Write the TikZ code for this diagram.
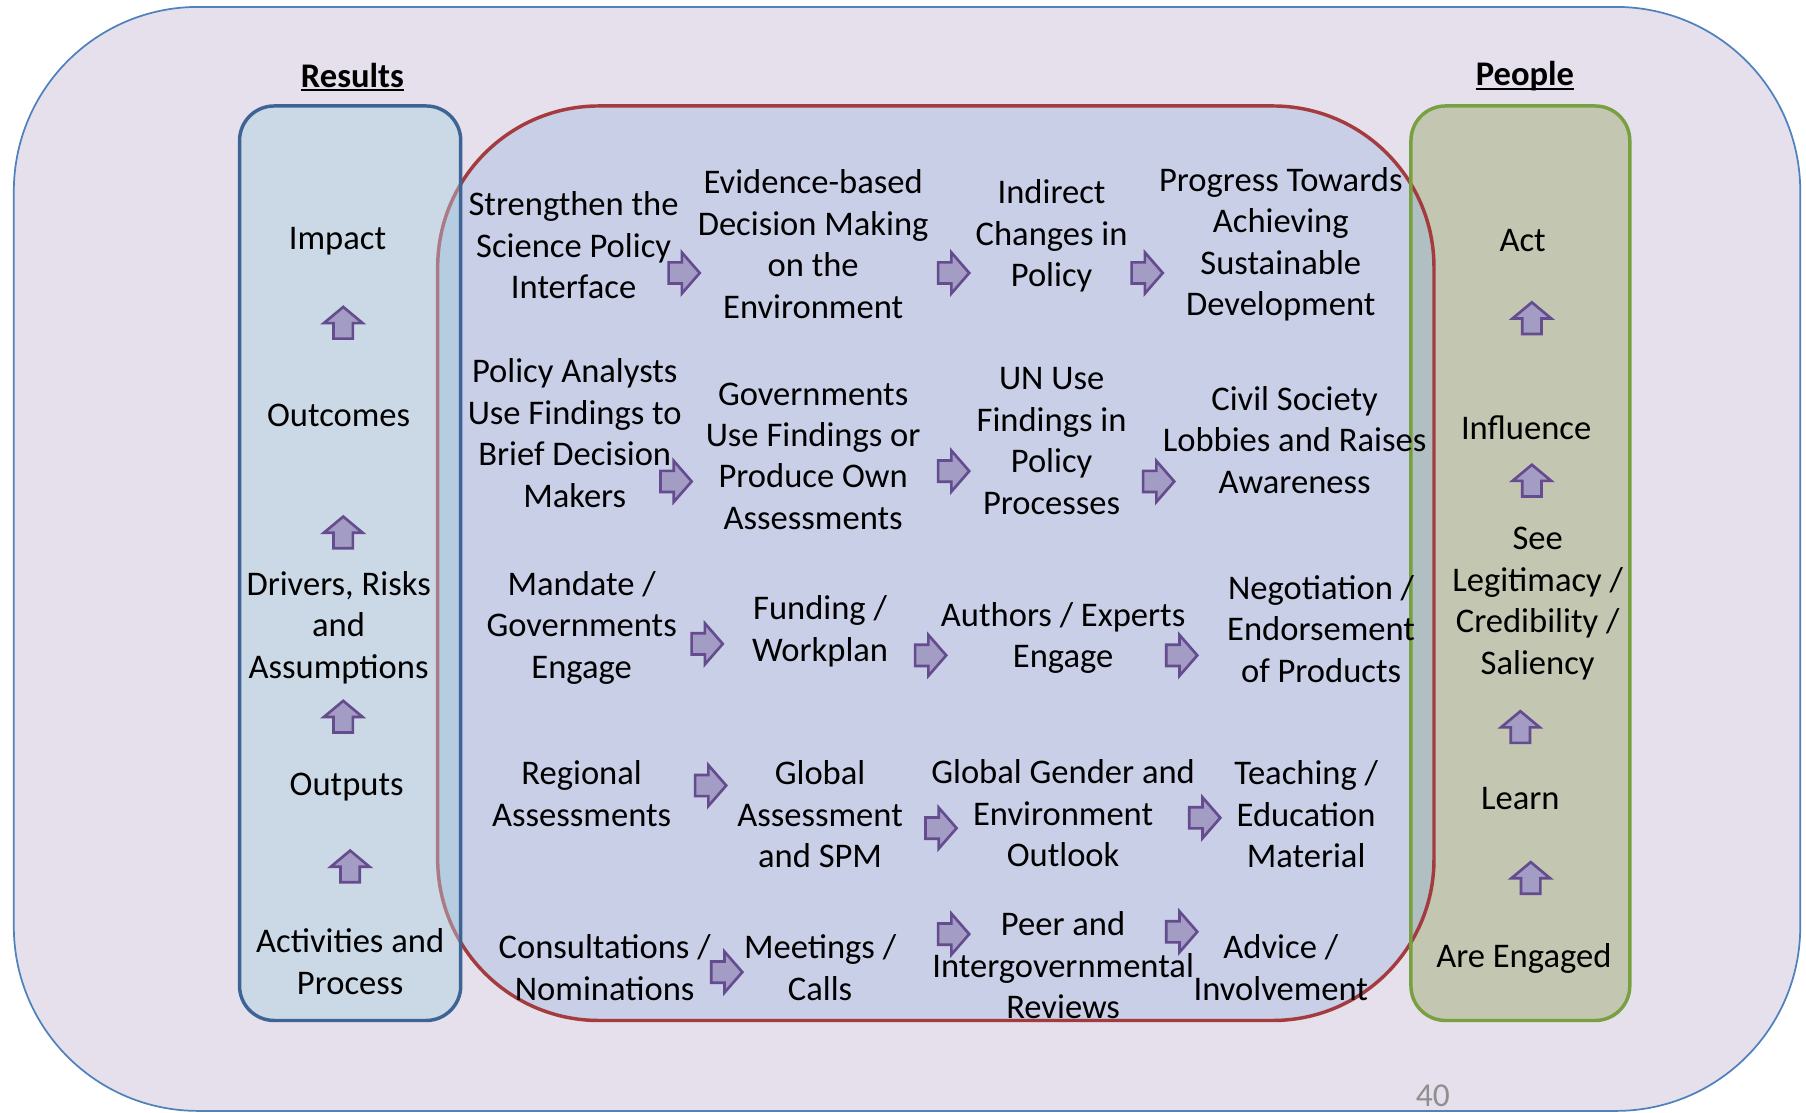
\documentclass[tikz,border=0pt]{standalone}
\usepackage{fontspec}
\setmainfont{Carlito}
\definecolor{outerfill}{HTML}{E5E0EC}
\definecolor{outerline}{HTML}{4F81BD}
\definecolor{bluefill}{HTML}{CBD8E5}
\definecolor{blueline}{HTML}{3E6496}
\definecolor{redfill}{HTML}{C8CFE7}
\definecolor{redline}{HTML}{A43B3E}
\definecolor{redfaded}{HTML}{AB7B85}
\definecolor{greenfill}{HTML}{C3C6B1}
\definecolor{greenline}{HTML}{78A040}
\definecolor{overL}{HTML}{B5CCE1}
\definecolor{overR}{HTML}{B0BFC2}
\definecolor{arrowfill}{HTML}{A39CC4}
\definecolor{arrowline}{HTML}{644C8E}
\definecolor{pagenum}{HTML}{8F8F8F}
\tikzset{
  txt/.style={align=center, inner sep=0pt, yshift=-2pt, font=\fontsize{30}{36}\selectfont},
  ttl/.style={inner sep=0pt, anchor=base, font=\fontsize{30}{36}\selectfont\bfseries},
  arr/.style={draw=arrowline, fill=arrowfill, line width=2.3pt, line join=miter},
  rarrow/.pic={\path[arr] (-13.5,-9.2) -- (-2,-9.2) -- (-2,-17.8) -- (13.5,0) -- (-2,17.8) -- (-2,9.2) -- (-13.5,9.2) -- cycle;},
  uarrow/.pic={\path[arr] (-8.4,14) -- (8.4,14) -- (8.4,0.5) -- (16.8,0.5) -- (0,-13.5) -- (-16.8,0.5) -- (-8.4,0.5) -- cycle;}
}
\begin{document}
\begin{tikzpicture}[x=1pt,y=-1pt]
\useasboundingbox (0,0) rectangle (1568,966);
% outer frame
\draw[fill=outerfill, draw=outerline, line width=1.5pt, rounded corners=160pt] (12,6) rectangle (1563,964.5);
% red central region fill
\fill[redfill, rounded corners=140pt] (380,92) rectangle (1245,886);
% green box fill
\fill[greenfill, rounded corners=30pt] (1225,92) rectangle (1415,886);
\begin{scope}
  \clip[rounded corners=140pt] (380,92) rectangle (1245,886);
  \fill[overR, rounded corners=30pt] (1225,92) rectangle (1415,886);
\end{scope}
% red stroke
\draw[redline, line width=3pt, rounded corners=140pt] (380,92) rectangle (1245,886);
% blue box
\fill[bluefill, rounded corners=30pt] (208,92) rectangle (400,886);
\begin{scope}
  \clip[rounded corners=30pt] (208,92) rectangle (400,886);
  \fill[overL, rounded corners=140pt] (380,92) rectangle (1245,886);
  \draw[redfaded, line width=3pt, rounded corners=140pt] (380,92) rectangle (1245,886);
\end{scope}
\draw[blueline, line width=3pt, rounded corners=30pt] (208,92) rectangle (400,886);
\draw[greenline, line width=3pt, rounded corners=30pt] (1225,92) rectangle (1415,886);

% titles
\node[ttl] (results) at (306,76) {Results};
\draw[line width=1.6pt] ([yshift=-2.5pt]results.base west) -- ([yshift=-2.5pt]results.base east);
\node[ttl] (people) at (1324,74) {People};
\draw[line width=1.6pt] ([yshift=-3.5pt]people.base west) -- ([yshift=-3.5pt]people.base east);

% left column
\node[txt] (impact) at (293,207) {Impact};
\node[txt] (outcomes) at (294,359) {Outcomes};
\node[txt] (drivers) at (294,543) {Drivers, Risks\\and\\Assumptions};
\node[txt] (outputs) at (301,681) {Outputs};
\node[txt] (activities) at (304,833) {Activities and\\Process};
\pic (ua1) at (298,280) {uarrow};
\pic (ua2) at (298,462) {uarrow};
\pic (ua3) at (298,622) {uarrow};
\pic (ua4) at (304,752) {uarrow};

% right column
\node[txt] (act) at (1322,207) {Act};
\node[txt] (influence) at (1325,369) {Influence};
\node[txt] (see) at (1335,522) {See\\Legitimacy /\\Credibility /\\Saliency};
\node[txt] (learn) at (1320,691) {Learn};
\node[txt] (engaged) at (1323,830) {Are Engaged};
\pic (ub1) at (1330,276) {uarrow};
\pic (ub2) at (1330,417) {uarrow};
\pic (ub3) at (1320,631) {uarrow};
\pic (ub4) at (1329,762) {uarrow};

% row 1
\node[txt] (r1a) at (498,211) {Strengthen the\\Science Policy\\Interface};
\node[txt] (r1b) at (706,210) {Evidence-based\\Decision Making\\on the\\Environment};
\node[txt] (r1c) at (913,203) {Indirect\\Changes in\\Policy};
\node[txt] (r1d) at (1112,210) {Progress Towards\\Achieving\\Sustainable\\Development};
\pic (a11) at (594,237) {rarrow};
\pic (a12) at (828,237) {rarrow};
\pic (a13) at (996,237) {rarrow};

% row 2
\node[txt] (r2a) at (499,374) {Policy Analysts\\Use Findings to\\Brief Decision\\Makers};
\node[txt] (r2b) at (706,394) {Governments\\Use Findings or\\Produce Own\\Assessments};
\node[txt] (r2c) at (913,381) {UN Use\\Findings in\\Policy\\Processes};
\node[txt] (r2d) at (1124,380) {Civil Society\\Lobbies and Raises\\Awareness};
\pic (a21) at (587,418) {rarrow};
\pic (a22) at (828,409) {rarrow};
\pic (a23) at (1006,418) {rarrow};

% row 3
\node[txt] (r3a) at (505,543) {Mandate /\\Governments\\Engage};
\node[txt] (r3b) at (712,546) {Funding /\\Workplan};
\node[txt] (r3c) at (923,552) {Authors / Experts\\Engage};
\node[txt] (r3d) at (1147,544) {Negotiation /\\Endorsement\\of Products};
\pic (a31) at (614,559) {rarrow};
\pic (a32) at (808,569) {rarrow};
\pic (a33) at (1026,569) {rarrow};

% row 4
\node[txt] (r4a) at (505,687) {Regional\\Assessments};
\node[txt] (r4b) at (712,705) {Global\\Assessment\\and SPM};
\node[txt] (r4c) at (923,704) {Global Gender and\\Environment\\Outlook};
\node[txt] (r4d) at (1134,705) {Teaching /\\Education\\Material};
\pic (a41) at (617,682) {rarrow};
\pic (a42) at (817,719) {rarrow};
\pic (a43) at (1046,710) {rarrow};

% row 5
\node[txt] (r5a) at (525,838) {Consultations /\\Nominations};
\node[txt] (r5b) at (712,838) {Meetings /\\Calls};
\node[txt] (r5c) at (923,836) {Peer and\\Intergovernmental\\Reviews};
\node[txt] (r5d) at (1112,838) {Advice /\\Involvement};
\pic (a51) at (631,844) {rarrow};
\pic (a52) at (828,811) {rarrow};
\pic (a53) at (1026,809) {rarrow};

% page number
\node[inner sep=0pt, anchor=base, text=pagenum, font=\fontsize{29}{34}\selectfont] (pnum) at (1244,961) {40};
\end{tikzpicture}
\end{document}
